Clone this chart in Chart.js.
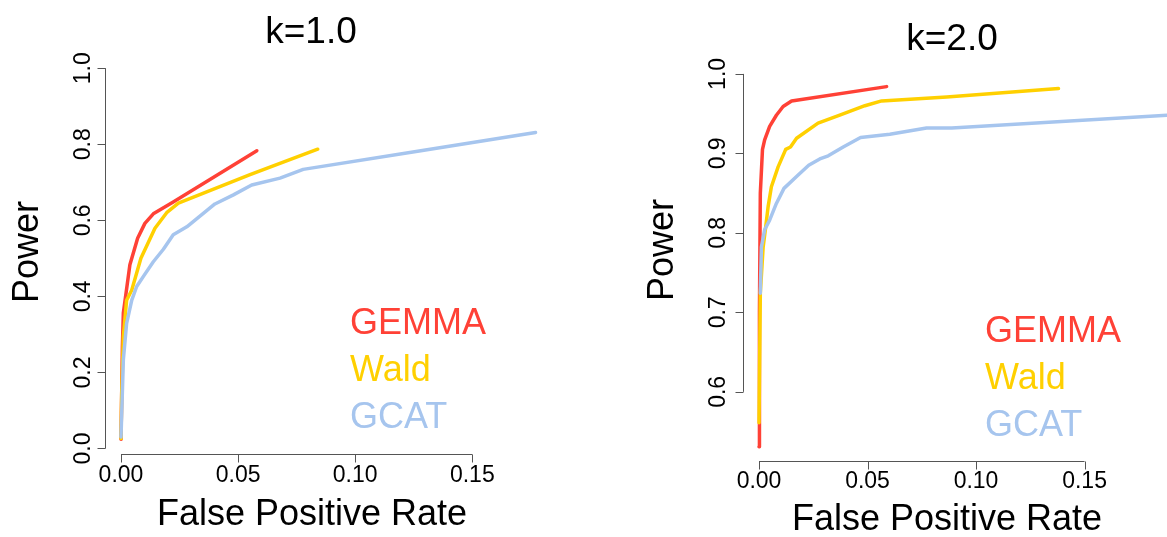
<!DOCTYPE html>
<html>
<head>
<meta charset="utf-8">
<script src="https://cdn.jsdelivr.net/npm/chart.js@4.4.0/dist/chart.umd.min.js"></script>
<style>
  body { margin: 0; background: #fff; }
  #wrap { position: relative; width: 1167px; height: 537px; }
  canvas { position: absolute; left: 0; top: 0; }
</style>
</head>
<body>
<div id="wrap">
  <canvas id="k1" width="1167" height="537"></canvas>
  <canvas id="k2" width="1167" height="537"></canvas>
</div>
<script>
const seriesNames = ["GEMMA", "Wald", "GCAT"];
const seriesColors = ["#ff4136", "#ffd000", "#a6c5ee"];

// k=1.0 panel
const gemmaFpr1 = [0, 0.0006, 0.001, 0.0038, 0.0071, 0.0102, 0.0138, 0.0223, 0.058];
const gemmaPow1 = [0.024, 0.268, 0.356, 0.483, 0.553, 0.592, 0.617, 0.648, 0.783];
const waldFpr1 = [0, 0.0003, 0.001, 0.0024, 0.0046, 0.0085, 0.0145, 0.0195, 0.0245, 0.0551, 0.084];
const waldPow1 = [0.026, 0.145, 0.294, 0.39, 0.417, 0.5, 0.579, 0.62, 0.645, 0.72, 0.787];
const gcatFpr1 = [0, 0.001, 0.0024, 0.0046, 0.0067, 0.0095, 0.0138, 0.0181, 0.0223, 0.0281, 0.0401, 0.048, 0.0558, 0.0679, 0.0778, 0.128, 0.177];
const gcatPow1 = [0.03, 0.233, 0.329, 0.39, 0.426, 0.452, 0.491, 0.524, 0.562, 0.583, 0.643, 0.667, 0.693, 0.711, 0.734, 0.783, 0.831];
const yTicks1 = [0, 0.2, 0.4, 0.6, 0.8, 1.0];
const yTickLabels1 = ["0.0", "0.2", "0.4", "0.6", "0.8", "1.0"];

// k=2.0 panel
const gemmaFpr2 = [0, 0.0002, 0.0006, 0.0016, 0.0026, 0.0049, 0.008, 0.0111, 0.015, 0.0588];
const gemmaPow2 = [0.531, 0.70, 0.85, 0.905, 0.917, 0.934, 0.948, 0.959, 0.966, 0.984];
const waldFpr2 = [0, 0.0006, 0.0019, 0.0031, 0.0042, 0.0057, 0.0088, 0.0123, 0.0145, 0.0173, 0.0272, 0.0372, 0.0488, 0.0565, 0.0865, 0.138];
const waldPow2 = [0.561, 0.724, 0.782, 0.808, 0.833, 0.858, 0.883, 0.905, 0.908, 0.919, 0.938, 0.948, 0.960, 0.966, 0.971, 0.9815];
const gcatFpr2 = [0.0006, 0.0011, 0.0026, 0.0049, 0.008, 0.0115, 0.0173, 0.0229, 0.028, 0.0319, 0.0388, 0.0468, 0.0603, 0.0772, 0.0888, 0.20];
const gcatPow2 = [0.724, 0.782, 0.804, 0.816, 0.837, 0.856, 0.871, 0.885, 0.893, 0.897, 0.908, 0.920, 0.924, 0.932, 0.932, 0.950];
const yTicks2 = [0.6, 0.7, 0.8, 0.9, 1.0];
const yTickLabels2 = ["0.6", "0.7", "0.8", "0.9", "1.0"];

const xTicks = [0, 0.05, 0.10, 0.15];
const xTickLabels = ["0.00", "0.05", "0.10", "0.15"];

const FONT = '"Liberation Sans", Arial, Helvetica, sans-serif';

const toPoints = (xs, ys) => xs.map((x, i) => ({ x: x, y: ys[i] }));

// R style axes, titles and coloured legend text
const baseAxes = {
  id: "baseAxes",
  afterDraw(chart, args, o) {
    const ctx = chart.ctx;
    const xs = chart.scales.x;
    const ys = chart.scales.y;
    const area = chart.chartArea;
    ctx.save();
    ctx.strokeStyle = "#555";
    ctx.lineWidth = 1;
    ctx.fillStyle = "#000";

    // y axis
    const yTop = ys.getPixelForValue(o.yTicks[o.yTicks.length - 1]);
    const yBot = ys.getPixelForValue(o.yTicks[0]);
    const ax = Math.round(area.left) + 0.5;
    ctx.beginPath();
    ctx.moveTo(ax, yTop);
    ctx.lineTo(ax, yBot);
    o.yTicks.forEach((t) => {
      const py = Math.round(ys.getPixelForValue(t)) + 0.5;
      ctx.moveTo(ax, py);
      ctx.lineTo(ax - 8, py);
    });
    ctx.stroke();

    // x axis
    const ay = Math.round(area.bottom) + 0.5;
    const xL = xs.getPixelForValue(o.xTicks[0]);
    const xR = xs.getPixelForValue(o.xTicks[o.xTicks.length - 1]);
    ctx.beginPath();
    ctx.moveTo(xL, ay);
    ctx.lineTo(xR, ay);
    o.xTicks.forEach((t) => {
      const px = Math.round(xs.getPixelForValue(t)) + 0.5;
      ctx.moveTo(px, ay);
      ctx.lineTo(px, ay + 8);
    });
    ctx.stroke();

    // tick labels
    ctx.font = "23px " + FONT;
    ctx.textAlign = "center";
    ctx.textBaseline = "alphabetic";
    o.xTicks.forEach((t, i) => {
      ctx.fillText(o.xTickLabels[i], xs.getPixelForValue(t), o.xLabelBase);
    });
    o.yTicks.forEach((t, i) => {
      ctx.save();
      ctx.translate(o.yLabelBase, ys.getPixelForValue(t));
      ctx.rotate(-Math.PI / 2);
      ctx.fillText(o.yTickLabels[i], 0, 0);
      ctx.restore();
    });

    // axis titles
    ctx.font = "36px " + FONT;
    ctx.fillText("False Positive Rate", o.xTitleX, o.xTitleBase);
    ctx.save();
    ctx.translate(o.yTitleBase, o.yTitleY);
    ctx.rotate(-Math.PI / 2);
    ctx.fillText("Power", 0, 0);
    ctx.restore();

    // panel title
    ctx.font = "37px " + FONT;
    ctx.fillText(o.title, o.titleX, o.titleBase);

    // legend
    ctx.font = "36px " + FONT;
    ctx.textAlign = "left";
    seriesNames.forEach((n, i) => {
      ctx.fillStyle = seriesColors[i];
      ctx.fillText(n, o.legendX, o.legendBase + i * 47);
    });
    ctx.restore();
  },
};

const makeChart = (id, sets, scales, padding, axesOpts) => {
  const datasets = sets.map((pts, i) => ({
    label: seriesNames[i],
    data: pts,
    showLine: true,
    borderColor: seriesColors[i],
    backgroundColor: seriesColors[i],
    borderWidth: 3.5,
    pointRadius: 0,
    tension: 0,
    borderJoinStyle: "round",
    borderCapStyle: "round",
  }));
  // draw GCAT first, GEMMA on top
  datasets.reverse();
  return new Chart(document.getElementById(id), {
    type: "scatter",
    data: { datasets: datasets },
    options: {
      responsive: false,
      animation: false,
      layout: { padding: padding },
      plugins: { legend: { display: false }, tooltip: { enabled: false }, baseAxes: axesOpts },
      scales: {
        x: { type: "linear", display: false, min: scales.xMin, max: scales.xMax },
        y: { type: "linear", display: false, min: scales.yMin, max: scales.yMax },
      },
    },
    plugins: [baseAxes],
  });
};

makeChart(
  "k1",
  [toPoints(gemmaFpr1, gemmaPow1), toPoints(waldFpr1, waldPow1), toPoints(gcatFpr1, gcatPow1)],
  { xMin: -0.00683, xMax: 0.1836, yMin: -0.0145, yMax: 1.04 },
  { left: 105, right: 616, top: 53, bottom: 83 },
  {
    title: "k=1.0", titleX: 311, titleBase: 43,
    xTicks: xTicks, xTickLabels: xTickLabels, xLabelBase: 482,
    yTicks: yTicks1, yTickLabels: yTickLabels1, yLabelBase: 90,
    xTitleX: 312, xTitleBase: 525, yTitleBase: 38, yTitleY: 252,
    legendX: 350, legendBase: 334,
  }
);

makeChart(
  "k2",
  [toPoints(gemmaFpr2, gemmaPow2), toPoints(waldFpr2, waldPow2), toPoints(gcatFpr2, gcatPow2)],
  { xMin: -0.00738, xMax: 0.188, yMin: 0.513, yMax: 1.02 },
  { left: 743, right: 0, top: 58, bottom: 76 },
  {
    title: "k=2.0", titleX: 952, titleBase: 50,
    xTicks: xTicks, xTickLabels: xTickLabels, xLabelBase: 488,
    yTicks: yTicks2, yTickLabels: yTickLabels2, yLabelBase: 725,
    xTitleX: 947, xTitleBase: 530, yTitleBase: 673, yTitleY: 250,
    legendX: 985, legendBase: 342,
  }
);
</script>
</body>
</html>
